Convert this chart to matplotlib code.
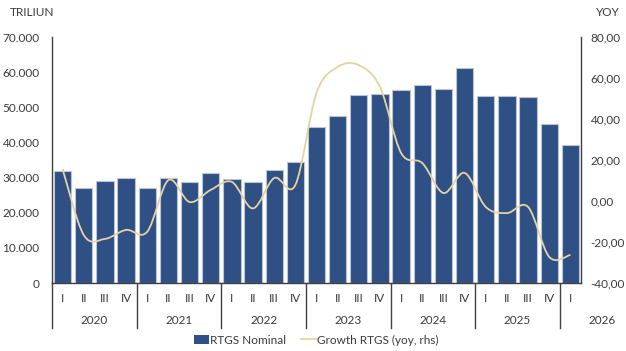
import matplotlib
matplotlib.use('Agg')
import matplotlib.pyplot as plt
from matplotlib.path import Path
from matplotlib.patches import PathPatch, Patch
from matplotlib.lines import Line2D
from matplotlib.ticker import FuncFormatter
import matplotlib.transforms as mtransforms
import numpy as np

plt.rcParams['font.family'] = ['Lato', 'DejaVu Sans']

# Data
quarters = ['I', 'II', 'III', 'IV'] * 6 + ['I']
years = ['2020', '2021', '2022', '2023', '2024', '2025', '2026']
rtgs_nominal = [32000, 27000, 29000, 29900,
                27000, 29900, 28700, 31300,
                29600, 28700, 32200, 34400,
                44400, 47500, 53500, 53800,
                54900, 56300, 55200, 61200,
                53200, 53200, 52900, 45200,
                39300]
growth_yoy = [15.6, -16.6, -18.5, -14.1,
              -15.0, 10.2, -0.5, 5.4,
              9.3, -3.6, 11.2, 7.8,
              52.7, 65.4, 66.3, 55.6,
              23.4, 18.5, 3.9, 13.7,
              -2.9, -5.9, -2.9, -27.3,
              -26.3]

bar_color = '#2f5085'
line_color = '#e6d3a1'
text_color = '#3a3a3a'
axis_color = '#404040'

fig = plt.figure(figsize=(6.26, 3.51), dpi=100)
ax = fig.add_axes([52 / 626, 1 - 283 / 351, 529 / 626, 246 / 351])
ax2 = ax.twinx()

x = np.arange(len(rtgs_nominal))
ax.bar(x, rtgs_nominal, width=0.82, color=bar_color, edgecolor='#b9c4d8',
       linewidth=0.8, zorder=2)
ax.set_xlim(-0.5, len(x) - 0.5)
ax.set_ylim(0, 70000)
ax.set_yticks(np.arange(0, 70001, 10000))
ax.yaxis.set_major_formatter(FuncFormatter(lambda v, p: f'{int(v):,}'.replace(',', '.')))
ax.set_xticks([])

ax2.set_ylim(-40, 80)
ax2.set_yticks(np.arange(-40, 81, 20))
ax2.yaxis.set_major_formatter(FuncFormatter(lambda v, p: f'{v:.2f}'.replace('.', ',')))

# smooth line like spreadsheet smoothing (bezier through each point)
pts = np.column_stack([x, growth_yoy]).astype(float)
verts = [tuple(pts[0])]
codes = [Path.MOVETO]
n = len(pts)
for i in range(n - 1):
    p0 = pts[i - 1] if i > 0 else pts[i]
    p1 = pts[i]
    p2 = pts[i + 1]
    p3 = pts[i + 2] if i + 2 < n else pts[i + 1]
    c1 = p1 + (p2 - p0) / 6
    c2 = p2 - (p3 - p1) / 6
    verts += [tuple(c1), tuple(c2), tuple(p2)]
    codes += [Path.CURVE4] * 3
ax2.add_patch(PathPatch(Path(verts, codes), facecolor='none', edgecolor=line_color,
                        linewidth=1.3, zorder=3))

for a in (ax, ax2):
    a.tick_params(length=0, labelsize=8.5, labelcolor=text_color, pad=9)
    a.spines['top'].set_visible(False)
    for s in ('left', 'right', 'bottom'):
        a.spines[s].set_color(axis_color)
        a.spines[s].set_linewidth(1.0)
ax.spines['right'].set_visible(False)
ax2.spines['left'].set_visible(False)
ax2.spines['bottom'].set_visible(False)
ax2.tick_params(pad=7)

# category axis labels
trans = mtransforms.blended_transform_factory(ax.transData, ax.transAxes)
for i, q in enumerate(quarters):
    ax.text(i, -0.062, q, transform=trans, ha='center', va='center',
            fontsize=8.5, color=text_color)
year_pos = [1.5, 5.5, 9.5, 13.5, 17.5, 21.5, 25.5]
for xp, yr in zip(year_pos, years):
    ax.text(xp, -0.152, yr, transform=trans, ha='center', va='center',
            fontsize=8.5, color=text_color, clip_on=False)
for xs in [-0.5, 3.5, 7.5, 11.5, 15.5, 19.5, 23.5]:
    ax.plot([xs, xs], [0, -0.183], transform=trans, color=axis_color,
            linewidth=1.0, clip_on=False)

fig.text(10 / 626, 1 - 13 / 351, 'TRILIUN', fontsize=8.5, color=text_color,
         ha='left', va='center')
fig.text(608 / 626, 1 - 13 / 351, 'YOY', fontsize=8.5, color=text_color,
         ha='center', va='center')

handles = [Patch(facecolor=bar_color, edgecolor='none'),
           Line2D([0], [0], color=line_color, linewidth=1.3)]
fig.legend(handles, ['RTGS Nominal', 'Growth RTGS (yoy, rhs)'], loc='center',
           bbox_to_anchor=(0.505, 1 - 340 / 351), ncol=2, frameon=False,
           fontsize=8.5, labelcolor=text_color, handlelength=1.3,
           handletextpad=0.1, columnspacing=1.2, handleheight=0.9)

fig.savefig('out.png', dpi=100)
